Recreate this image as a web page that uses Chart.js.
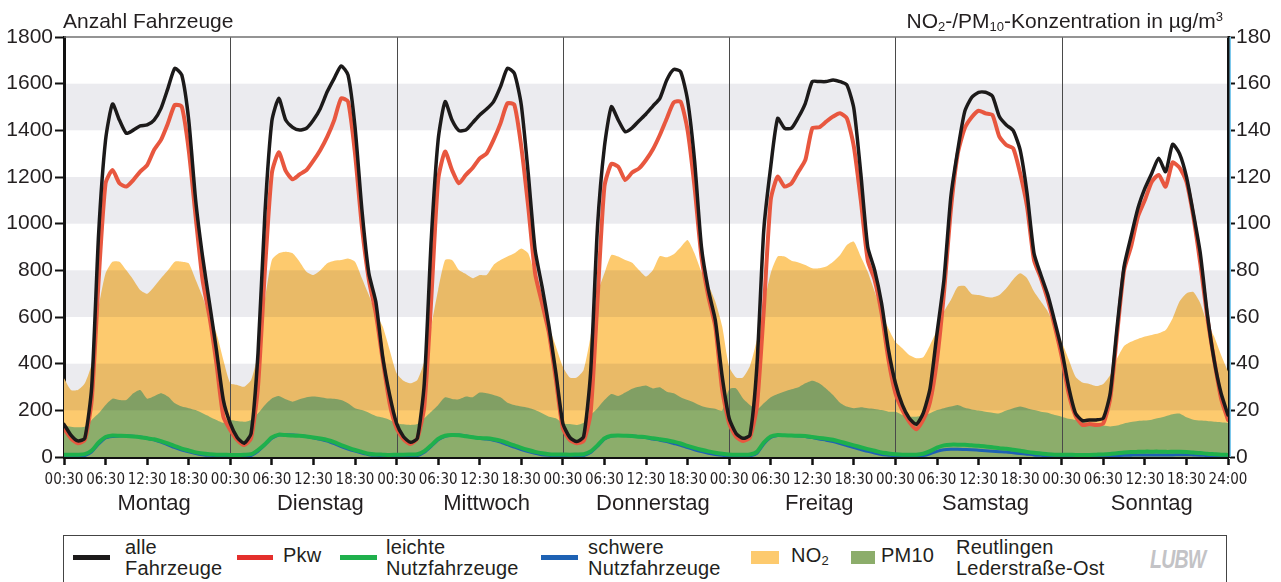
<!DOCTYPE html>
<html lang="de">
<head>
<meta charset="utf-8">
<title>Verkehr und Luftschadstoffe – Reutlingen Lederstraße-Ost</title>
<script src="https://cdn.jsdelivr.net/npm/chart.js@4.4.1/dist/chart.umd.min.js"></script>
<style>
  html, body { margin: 0; padding: 0; background: #fff; }
  body {
    width: 1281px; height: 582px; position: relative; overflow: hidden;
    font-family: "Liberation Sans", Arial, sans-serif; color: #231f20;
  }
  #wrap { position: absolute; left: 0; top: 0; width: 1281px; height: 530px; }
  .axis-title { position: absolute; top: 10px; font-size: 21px; line-height: 21px; white-space: nowrap; }
  .axis-title sub { font-size: 0.62em; vertical-align: -0.25em; line-height: 0; }
  .axis-title sup { font-size: 0.62em; vertical-align: 0.55em; line-height: 0; }
  #legend {
    position: absolute; left: 63px; top: 535px; width: 1164px; height: 70px;
    border: 1.5px solid #444; box-sizing: border-box;
  }
  #legend .line { position: absolute; top: 19px; height: 5px; }
  #legend .box { position: absolute; top: 15px; height: 13px; }
  #legend .txt { position: absolute; font-size: 20px; line-height: 21px; white-space: nowrap; letter-spacing: 0.2px; }
  #legend .one { top: 9px; }
  #legend .two { top: 1px; }
  #legend sub { font-size: 0.65em; vertical-align: -0.25em; line-height: 0; }
  #legend .logo {
    position: absolute; left: 1086px; top: 9px; font-size: 25px; font-weight: bold; font-style: italic;
    color: #c3c3c6; letter-spacing: -1px; transform: scaleX(0.78); transform-origin: left center;
  }
</style>
</head>
<body>
<div id="wrap"><canvas id="chart" width="1281" height="530"></canvas></div>
<div class="axis-title" style="left:63px">Anzahl Fahrzeuge</div>
<div class="axis-title" style="right:58px">NO<sub>2</sub>-/PM<sub>10</sub>-Konzentration in µg/m<sup>3</sup></div>

<div id="legend">
  <div class="line" style="left:9px;width:37px;background:#1c1a1a"></div>
  <div class="txt two" style="left:61px">alle<br>Fahrzeuge</div>
  <div class="line" style="left:173px;width:36px;background:#e42f2c"></div>
  <div class="txt one" style="left:219px">Pkw</div>
  <div class="line" style="left:276px;width:37px;background:#1fb04c"></div>
  <div class="txt two" style="left:322px">leichte<br>Nutzfahrzeuge</div>
  <div class="line" style="left:477px;width:37px;background:#1e62b4"></div>
  <div class="txt two" style="left:524px">schwere<br>Nutzfahrzeuge</div>
  <div class="box" style="left:687px;width:28px;background:#fdca6e"></div>
  <div class="txt one" style="left:727px">NO<sub>2</sub></div>
  <div class="box" style="left:787px;width:24px;background:#8cad6b"></div>
  <div class="txt one" style="left:817px">PM10</div>
  <div class="txt two" style="left:892px">Reutlingen<br>Lederstraße-Ost</div>
  <div class="logo">LUBW</div>
</div>

<script>
// Wochengang, Stundenwerte ab Montag 00:30 (7 x 24 Werte + Endwert 24:00)
const days = ["Montag", "Dienstag", "Mittwoch", "Donnerstag", "Freitag", "Samstag", "Sonntag"];
const tickNames = ["00:30", "06:30", "12:30", "18:30"];
const endTickName = "24:00";

// Anzahl Fahrzeuge (linke Achse)
const alleFahrzeuge = [
  140, 94, 69, 80, 301, 959, 1359, 1513, 1444, 1387, 1401, 1419, 1423, 1444, 1494, 1580, 1666, 1637, 1444, 1101, 859, 659, 459, 244,
  144, 84, 59, 101, 444, 1044, 1440, 1537, 1444, 1413, 1401, 1409, 1444, 1494, 1566, 1623, 1676, 1637, 1416, 1059, 787, 666, 430, 266,
  144, 87, 63, 80, 316, 930, 1359, 1523, 1444, 1399, 1401, 1433, 1466, 1491, 1523, 1587, 1666, 1644, 1509, 1216, 887, 730, 559, 359,
  144, 84, 66, 87, 359, 987, 1330, 1501, 1444, 1394, 1411, 1441, 1470, 1504, 1537, 1616, 1661, 1651, 1530, 1273, 901, 716, 587, 344,
  166, 101, 80, 94, 387, 973, 1244, 1451, 1409, 1409, 1456, 1516, 1609, 1609, 1609, 1616, 1609, 1594, 1494, 1216, 901, 801, 659, 459,
  316, 223, 166, 140, 187, 294, 530, 759, 1116, 1316, 1480, 1541, 1563, 1563, 1547, 1459, 1423, 1399, 1316, 1130, 873, 780, 694, 580,
  459, 301, 187, 156, 159, 159, 166, 273, 559, 816, 944, 1066, 1151, 1216, 1280, 1223, 1340, 1300, 1201, 1044, 873, 616, 416, 273, 180
];
const pkw = [
  122, 80, 59, 73, 244, 759, 1173, 1230, 1173, 1159, 1187, 1223, 1251, 1316, 1359, 1430, 1509, 1501, 1316, 1030, 759, 601, 401, 173,
  116, 73, 51, 80, 301, 801, 1216, 1306, 1226, 1190, 1211, 1230, 1270, 1316, 1373, 1444, 1537, 1523, 1301, 987, 759, 616, 416, 230,
  123, 76, 56, 80, 216, 673, 1187, 1309, 1230, 1173, 1209, 1240, 1280, 1301, 1359, 1430, 1516, 1509, 1330, 1073, 787, 659, 530, 330,
  123, 73, 59, 69, 187, 673, 1159, 1256, 1244, 1187, 1219, 1237, 1273, 1319, 1380, 1451, 1519, 1523, 1401, 1159, 859, 687, 559, 287,
  144, 87, 69, 84, 216, 630, 1101, 1201, 1159, 1173, 1223, 1273, 1409, 1413, 1437, 1459, 1473, 1451, 1330, 1101, 844, 759, 616, 416,
  273, 201, 151, 119, 159, 237, 416, 701, 1059, 1301, 1409, 1456, 1484, 1473, 1466, 1373, 1337, 1323, 1216, 1073, 844, 766, 673, 559,
  430, 273, 176, 137, 141, 137, 144, 251, 530, 801, 901, 1030, 1101, 1180, 1209, 1159, 1262, 1240, 1180, 1030, 830, 601, 416, 251, 159
];
const leichteNfz = [
  10, 10, 10, 12, 28, 62, 86, 92, 91, 90, 88, 85, 80, 76, 68, 58, 47, 36, 28, 20, 15, 12, 10, 10,
  9, 9, 10, 12, 30, 55, 84, 96, 94, 92, 91, 88, 84, 79, 73, 64, 51, 40, 30, 22, 14, 11, 10, 9,
  10, 10, 11, 12, 25, 50, 78, 91, 94, 93, 89, 85, 81, 80, 76, 70, 60, 50, 39, 30, 22, 16, 12, 11,
  11, 10, 11, 12, 24, 50, 80, 91, 92, 91, 90, 87, 85, 80, 76, 72, 66, 58, 48, 39, 31, 24, 18, 14,
  11, 10, 10, 11, 22, 62, 88, 94, 93, 92, 91, 90, 86, 82, 78, 74, 66, 58, 50, 42, 34, 27, 19, 15,
  12, 10, 10, 10, 14, 25, 40, 50, 53, 53, 52, 50, 48, 45, 42, 38, 35, 31, 27, 22, 18, 15, 12, 10,
  10, 10, 9, 9, 9, 10, 11, 13, 16, 19, 21, 22, 23, 23, 23, 22, 22, 22, 21, 19, 17, 14, 12, 10, 9
];
const schwereNfz = [
  5, 4, 4, 6, 22, 56, 82, 88, 90, 91, 89, 86, 80, 74, 64, 52, 40, 30, 22, 15, 10, 7, 6, 5,
  5, 4, 4, 6, 24, 52, 80, 94, 95, 94, 92, 88, 82, 76, 68, 57, 45, 34, 25, 17, 10, 7, 6, 5,
  5, 4, 4, 6, 20, 46, 74, 89, 93, 94, 90, 85, 80, 77, 72, 64, 53, 42, 32, 23, 16, 10, 7, 5,
  5, 4, 4, 6, 19, 46, 77, 90, 92, 92, 90, 87, 83, 77, 72, 66, 58, 50, 40, 31, 23, 16, 11, 7,
  5, 4, 4, 5, 16, 56, 84, 92, 92, 92, 90, 88, 83, 77, 72, 66, 58, 49, 40, 32, 24, 17, 11, 8,
  5, 4, 3, 3, 6, 14, 24, 31, 33, 33, 32, 31, 29, 27, 25, 23, 21, 18, 15, 12, 9, 7, 5, 4,
  4, 3, 3, 3, 3, 3, 4, 5, 6, 7, 8, 9, 9, 9, 9, 9, 9, 10, 10, 9, 8, 6, 5, 4, 4
];

// Konzentrationen in µg/m³ (rechte Achse)
const no2 = [
  33.7, 28.7, 28.7, 31.6, 40, 64, 78.7, 83.7, 83.7, 80, 76, 71.6, 70, 73, 76.6, 80, 83.7, 83.7, 83, 76, 68.7, 60, 53, 41.6,
  31.6, 30.9, 30.1, 33, 44.4, 67.3, 84.4, 87.3, 88, 87.3, 83.7, 79.4, 78, 80, 83, 84.1, 84.4, 85.1, 83.7, 76.6, 69.4, 61.6, 55.9, 45.9,
  35.9, 32.7, 31.6, 33, 40.9, 55.9, 71.6, 84.4, 84.4, 80.1, 78.4, 76.6, 78, 78, 82.3, 84.4, 85.9, 87.3, 89.4, 87.3, 77.3, 65.9, 55.9, 47.3,
  38.7, 34.1, 34.1, 37.3, 51.6, 70.1, 78.7, 86.6, 85.9, 84.4, 83.3, 80.1, 77.3, 80.1, 86.1, 85.6, 86.9, 89.9, 93, 87.3, 79.4, 73.7, 66.6, 55.9,
  38.7, 34.1, 34.1, 39, 50.1, 65.1, 78.7, 85.9, 85.9, 84.1, 83.4, 82.3, 80.9, 80.9, 81.6, 83.7, 86.6, 90.9, 92.3, 85.9, 79.4, 70.9, 62, 55,
  49.4, 46.6, 43.7, 42.3, 42.7, 48, 54.4, 62.3, 67.3, 73, 73.3, 69.9, 69.4, 68.7, 68.4, 69.4, 72.3, 76.1, 78.7, 76.6, 70.9, 66.6, 62.3, 55.9,
  49.4, 41.9, 34.4, 31.9, 31.3, 30.4, 31.3, 35.1, 42.3, 47.6, 49.4, 50.6, 51.6, 52.3, 53, 54.4, 59.4, 66.6, 70.1, 70.7, 65.9, 57.3, 51.6, 43.7, 36.6
];
const pm10 = [
  13.3, 13, 12.7, 13, 15.9, 18.7, 22.3, 25, 24.4, 24.4, 27.3, 28.7, 25, 26, 27.3, 25.9, 23, 21.6, 20.9, 20.1, 18.7, 17.3, 15.9, 14.7,
  15.9, 15.4, 15.1, 15.9, 18.7, 22.3, 25.1, 26.1, 24.7, 23.7, 24.7, 25.6, 25.9, 25.6, 25.1, 25, 24.4, 23, 20.9, 20.1, 19, 17.6, 16.9, 15.9,
  14.4, 14, 13.7, 14.1, 16.6, 19.4, 22.3, 25.6, 24.9, 24.7, 25.9, 25.6, 27.6, 27.3, 26.6, 25.6, 23.3, 22.3, 21.6, 21.1, 20.1, 18.7, 17.3, 16.6,
  14.4, 14.1, 13.7, 14.7, 18, 20.9, 24.4, 27, 26.1, 27.6, 29.3, 30.1, 30.6, 29.4, 29.9, 28, 27.3, 25.6, 24.4, 23.3, 21.9, 21.1, 20.7, 19.9,
  29, 29.4, 25.1, 22.3, 20.4, 23, 25.6, 27, 28.1, 29, 29.9, 31.6, 32.7, 31.6, 29.3, 26.6, 23.3, 21.6, 20.9, 21.3, 20.9, 20.6, 20.1, 19.4,
  19.4, 18, 17.3, 17.3, 17.7, 18.7, 20.1, 20.9, 21.6, 22.3, 21.1, 20.4, 19.9, 19.4, 19, 18.7, 19.9, 20.9, 21.6, 20.9, 20.1, 19.4, 19, 18,
  17.3, 16.4, 15.9, 15.1, 14.4, 13.9, 13.5, 13.1, 13.5, 14.4, 15, 15.4, 15.6, 16, 16.7, 17.5, 18.3, 18.6, 17, 16, 15.6, 15.4, 15.1, 14.9, 14.6
];

const textColor = "#231f20";
const narrowFont = "'Liberation Sans Narrow', 'DejaVu Sans Condensed', 'Arial Narrow', sans-serif";
const bands = [[200, 400], [600, 800], [1000, 1200], [1400, 1600]];

// Zeitachse in Stunden: 0.5 = Montag 00:30
const hours = alleFahrzeuge.map((v, i) => i + 0.5);
const tickHours = [];
for (let h = 0.5; h <= 168.5; h += 6) tickHours.push(h);
const points = (values) => values.map((v, i) => ({ x: hours[i], y: v }));

const tickLabel = (value) => {
  if (value >= 168.5) return endTickName;
  return tickNames[Math.round((value - 0.5) % 24 / 6)];
};
const plainNumber = (value) => String(value);

// graue Bänder (multipliziert über die Flächen) und Tagestrenner
const backdrop = {
  id: "backdrop",
  afterDatasetDraw(chart, args) {
    if (chart.data.datasets[args.index].label !== "PM10") return;
    const { ctx, chartArea: a, scales: { x, y } } = chart;
    ctx.save();
    ctx.globalCompositeOperation = "multiply";
    ctx.fillStyle = "#ebebef";
    bands.forEach(([lo, hi]) => {
      const top = y.getPixelForValue(hi);
      ctx.fillRect(a.left, top, a.right - a.left, y.getPixelForValue(lo) - top);
    });
    ctx.globalCompositeOperation = "source-over";
    ctx.strokeStyle = "#4a4a4a";
    ctx.lineWidth = 1;
    for (let d = 1; d < days.length; d++) {
      const px = Math.round(x.getPixelForValue(0.5 + 24 * d)) + 0.5;
      ctx.beginPath();
      ctx.moveTo(px, a.top);
      ctx.lineTo(px, a.bottom);
      ctx.stroke();
    }
    ctx.strokeStyle = "#707070";
    ctx.lineWidth = 1.5;
    ctx.beginPath();
    ctx.moveTo(a.left, a.top);
    ctx.lineTo(a.right, a.top);
    ctx.stroke();
    ctx.restore();
  },
  afterDraw(chart) {
    const { ctx, chartArea: a, scales: { x } } = chart;
    ctx.save();
    ctx.fillStyle = "#7cc8ec";
    ctx.fillRect(a.right + 1.5, a.top, 1.5, a.bottom - a.top);
    ctx.fillStyle = textColor;
    ctx.font = "22px 'Liberation Sans', Arial, sans-serif";
    ctx.textAlign = "center";
    ctx.textBaseline = "alphabetic";
    days.forEach((name, d) => ctx.fillText(name, x.getPixelForValue(13.5 + 24 * d), 510));
    ctx.restore();
  }
};

Chart.defaults.font.family = "'Liberation Sans', Arial, sans-serif";
Chart.defaults.color = textColor;

new Chart(document.getElementById("chart"), {
  type: "line",
  data: {
    datasets: [
      { label: "alle Fahrzeuge", data: points(alleFahrzeuge), borderColor: "#1c1a1a", borderWidth: 3.5, order: 1, yAxisID: "y" },
      { label: "Pkw", data: points(pkw), borderColor: "#e8573f", borderWidth: 4, order: 2, yAxisID: "y" },
      { label: "leichte Nutzfahrzeuge", data: points(leichteNfz), borderColor: "#1fb04c", borderWidth: 4, order: 3, yAxisID: "y" },
      { label: "schwere Nutzfahrzeuge", data: points(schwereNfz), borderColor: "#1e62b4", borderWidth: 3, order: 4, yAxisID: "y" },
      { label: "PM10", data: points(pm10), backgroundColor: "#8cad6b", borderWidth: 0, fill: "origin", order: 5, yAxisID: "y2" },
      { label: "NO2", data: points(no2), backgroundColor: "#fdca6e", borderWidth: 0, fill: "origin", order: 6, yAxisID: "y2" }
    ]
  },
  options: {
    responsive: false,
    animation: false,
    devicePixelRatio: 1,
    layout: { padding: { top: 37, left: 0, right: 0, bottom: 0 } },
    elements: {
      point: { radius: 0 },
      line: { tension: 0.2, borderJoinStyle: "round", borderCapStyle: "round" }
    },
    plugins: { legend: { display: false }, tooltip: { enabled: false } },
    scales: {
      x: {
        type: "linear", min: 0.5, max: 168.5,
        afterBuildTicks: (s) => { s.ticks = tickHours.map((v) => ({ value: v })); },
        afterFit: (s) => { s.height = 73; },
        ticks: { autoSkip: false, maxRotation: 0, padding: 6, font: { family: narrowFont, size: 15 }, callback: tickLabel },
        grid: { drawOnChartArea: false, drawTicks: true, tickLength: 8, tickWidth: 2.5, tickColor: "#111" },
        border: { display: true, color: "#111", width: 3 }
      },
      y: {
        position: "left", min: 0, max: 1800,
        afterFit: (s) => { s.width = 64; },
        ticks: { stepSize: 200, padding: 2, font: { size: 21 }, callback: plainNumber },
        grid: { drawOnChartArea: false, tickLength: 9, tickWidth: 2, tickColor: "#111" },
        border: { display: true, color: "#111", width: 3 }
      },
      y2: {
        position: "right", min: 0, max: 180,
        afterFit: (s) => { s.width = 53; },
        ticks: { stepSize: 20, padding: 1, font: { size: 21 }, callback: plainNumber },
        grid: { drawOnChartArea: false, tickLength: 7, tickWidth: 2, tickColor: "#111" },
        border: { display: true, color: "#111", width: 3 }
      }
    }
  },
  plugins: [backdrop]
});
</script>
</body>
</html>
